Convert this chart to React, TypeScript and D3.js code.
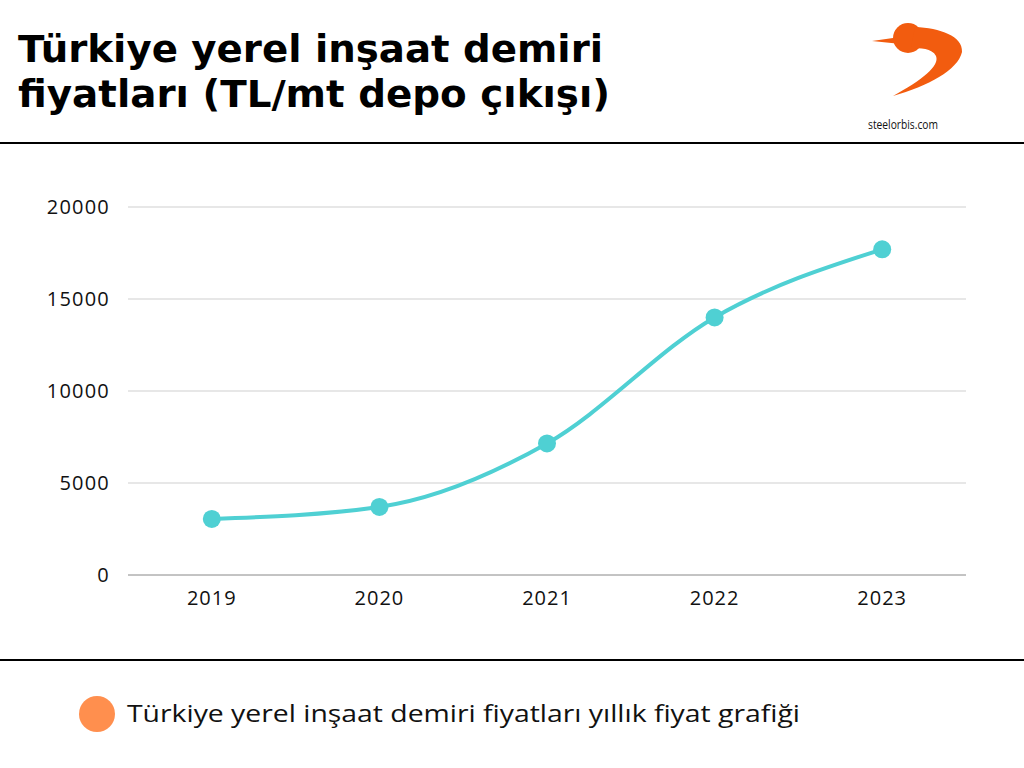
import React from "react";
import * as d3 from "d3";

const years = ["2019", "2020", "2021", "2022", "2023"];
const prices = [3050, 3700, 7150, 14000, 17700];
const yTicks = [0, 5000, 10000, 15000, 20000];
const titleLines = ["Türkiye yerel inşaat demiri", "fiyatları (TL/mt depo çıkışı)"];
const titleWidths = [585, 592];
const legendLabel = "Türkiye yerel inşaat demiri fiyatları yıllık fiyat grafiği";
const brand = "steelorbis.com";

const W = 1024;
const H = 768;
const FONT = "'Open Sans', 'Noto Sans', sans-serif";
const TITLE_FONT = "'DejaVu Sans', 'Open Sans', sans-serif";

export default function App() {
  const x = d3.scaleBand<string>().domain(years).range([128, 966]);
  const y = d3.scaleLinear().domain([0, 20000]).range([575, 207]);
  const cx = (i: number) => (x(years[i]) as number) + x.bandwidth() / 2;
  const line = d3
    .line<number>()
    .x((_, i) => cx(i))
    .y((d) => y(d))
    .curve(d3.curveMonotoneX);

  return (
    <svg
      width={W}
      height={H}
      style={{ position: "fixed", left: 0, top: 0, background: "#fff" }}
      fontFamily={FONT}
    >
      <rect width={W} height={H} fill="#fff" />
      {titleLines.map((t, i) => (
        <text
          key={i}
          x={18}
          y={62 + i * 45}
          fontSize={37}
          fontWeight={700}
          fontFamily={TITLE_FONT}
          fill="#000"
          textLength={titleWidths[i]}
          lengthAdjust="spacingAndGlyphs"
        >
          {t}
        </text>
      ))}
      {/* logo */}
      <g fill="#F25C0F">
        <path d="M872 41 L900 37 L901 44 Z" />
        <circle cx={908} cy={38} r={15} />
        <path d="M915 27 C940 28 963 36 962 52 C958 70 928 86 893 96 C922 80 940 66 936 56 C932 48 920 48 911 48 Z" />
      </g>
      <text x={868} y={129} fontSize={13} fill="#111" textLength={70} lengthAdjust="spacingAndGlyphs">
        {brand}
      </text>
      <rect x={0} y={142} width={W} height={2} fill="#000" />
      <rect x={0} y={659} width={W} height={2} fill="#000" />

      {yTicks.map((t) => (
        <g key={t}>
          <line x1={128} x2={966} y1={y(t)} y2={y(t)} stroke={t === 0 ? "#888" : "#cfcfcf"} strokeWidth={1} />
          <text x={110} y={y(t)} dy="0.36em" textAnchor="end" fontSize={20} fontWeight={500} letterSpacing={1.2} fill="#111">
            {t}
          </text>
        </g>
      ))}
      {years.map((yr, i) => (
        <text key={yr} x={cx(i)} y={605} textAnchor="middle" fontSize={20} fontWeight={500} letterSpacing={1} fill="#111">
          {yr}
        </text>
      ))}
      <path d={line(prices) || ""} fill="none" stroke="#4FD0D3" strokeWidth={4} strokeLinecap="round" />
      {prices.map((p, i) => (
        <circle key={i} cx={cx(i)} cy={y(p)} r={9} fill="#4FD0D3" />
      ))}

      <circle cx={97} cy={714} r={18} fill="#FF8F4E" />
      <text x={127} y={722} fontSize={23} fill="#111" textLength={673} lengthAdjust="spacingAndGlyphs">
        {legendLabel}
      </text>
    </svg>
  );
}
